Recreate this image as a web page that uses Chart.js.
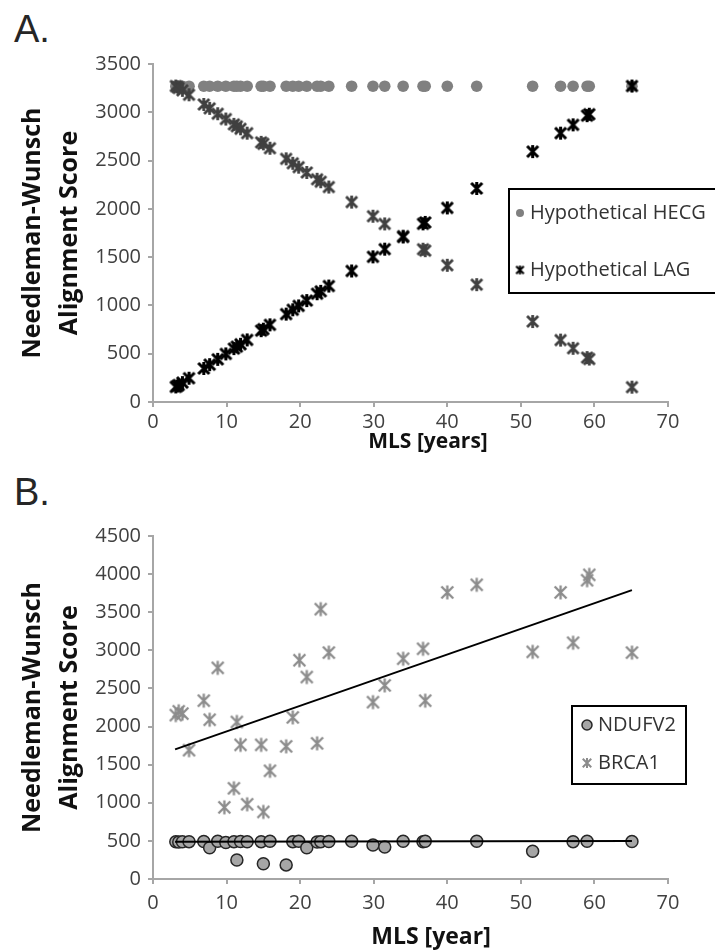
<!DOCTYPE html>
<html>
<head>
<meta charset="utf-8">
<script src="https://cdn.jsdelivr.net/npm/chart.js@4.4.1/dist/chart.umd.min.js"></script>
<style>
  body { margin: 0; background: #fff; width: 715px; height: 952px; position: relative; overflow: hidden; }
  canvas { position: absolute; left: 0; }
  #chartA { top: 0; }
  #chartB { top: 460px; }
  .panel { position: absolute; left: 14px; font-family: "Liberation Sans", Arial, sans-serif; font-size: 38px; line-height: 38px; color: #262626; }
</style>
</head>
<body>
<div class="panel" style="top:10px">A.</div>
<div class="panel" style="top:473px">B.</div>
<canvas id="chartA" width="715" height="470"></canvas>
<canvas id="chartB" width="715" height="492"></canvas>
<script>
// --- panel A: hypothetical scores vs maximum life span ---
const mlsA = [3.1, 3.3, 3.5, 4.0, 4.9, 6.9, 7.7, 8.8, 9.9, 11.0, 11.4, 11.9, 12.8, 14.7, 15.0, 15.9, 18.1, 19.0, 19.8,
  20.9, 22.3, 22.8, 23.9, 27.0, 29.9, 31.5, 34.0, 36.7, 37.0, 40.0, 44.0, 51.6, 55.4, 57.1, 59.0, 59.3, 65.1];
const hecgA = [3270, 3270, 3270, 3270, 3270, 3270, 3270, 3270, 3270, 3270, 3270, 3270, 3270, 3270, 3270, 3270, 3270,
  3270, 3270, 3270, 3270, 3270, 3270, 3270, 3270, 3270, 3270, 3270, 3270, 3270, 3270, 3270, 3270, 3270, 3270, 3270, 3270];
const lagUpA = [156, 166, 176, 201, 246, 347, 387, 442, 498, 553, 573, 598, 643, 739, 754, 799, 910, 955, 995,
  1050, 1121, 1146, 1201, 1357, 1503, 1583, 1709, 1845, 1860, 2010, 2211, 2593, 2784, 2870, 2965, 2980, 3272];
const lagDownA = [3272, 3262, 3252, 3227, 3181, 3081, 3041, 2985, 2930, 2875, 2855, 2829, 2784, 2689, 2673, 2628, 2518,
  2472, 2432, 2377, 2306, 2281, 2226, 2070, 1924, 1844, 1718, 1582, 1567, 1416, 1215, 833, 641, 556, 460, 445, 154];

// --- panel B: NDUFV2 and BRCA1 scores ---
const mlsNdufv2 = [3.1, 3.5, 4.0, 4.9, 6.9, 7.7, 8.8, 9.9, 11.0, 11.4, 11.9, 12.8, 14.7, 15.0, 15.9, 18.1, 19.0, 19.8,
  20.9, 22.3, 22.8, 23.9, 27.0, 29.9, 31.5, 34.0, 36.7, 37.0, 44.0, 51.6, 57.1, 59.0, 65.1];
const ndufv2 = [490, 485, 488, 490, 492, 410, 495, 480, 490, 250, 492, 488, 490, 200, 495, 185, 490, 495,
  410, 485, 490, 492, 495, 445, 420, 495, 490, 495, 495, 365, 490, 495, 492];
const mlsBrca1 = [3.1, 3.5, 4.0, 4.9, 6.9, 7.7, 8.8, 9.7, 11.0, 11.4, 11.9, 12.8, 14.7, 15.0, 15.9, 18.1, 19.0, 19.9,
  20.9, 22.3, 22.8, 23.9, 29.9, 31.5, 34.0, 36.7, 37.0, 40.0, 44.0, 51.6, 55.4, 57.1, 59.0, 59.3, 65.1];
const brca1 = [2150, 2200, 2170, 1690, 2340, 2090, 2770, 940, 1190, 2060, 1760, 980, 1760, 880, 1420, 1740, 2120, 2870,
  2650, 1780, 3540, 2970, 2320, 2540, 2890, 3020, 2340, 3760, 3860, 2980, 3760, 3100, 3920, 3990, 2970];
const trendBrcaX = [3.0, 65.1];
const trendBrcaY = [1700, 3790];
const trendNdufX = [3.0, 65.1];
const trendNdufY = [488, 500];

const xTicks = { min: 0, max: 70, step: 10 };

const pts = (xs, ys) => xs.map((x, i) => ({ x, y: ys[i] }));

function starMarker(color, r, lw) {
  const s = Math.ceil(2 * r + lw * 2);
  const c = document.createElement("canvas");
  c.width = s; c.height = s;
  const g = c.getContext("2d");
  const m = s / 2, d = r * 0.85;
  g.strokeStyle = color;
  g.lineWidth = lw;
  g.beginPath();
  g.moveTo(m - d, m - d); g.lineTo(m + d, m + d);
  g.moveTo(m + d, m - d); g.lineTo(m - d, m + d);
  g.moveTo(m, m - r); g.lineTo(m, m + r);
  g.stroke();
  return c;
}

const FONT = "'Open Sans', 'Liberation Sans', sans-serif";
Chart.defaults.font.family = FONT;

// legend drawn as a framed box at fixed spot, x title placed like the original (a bit right of centre)
const legendBox = {
  id: "legendBox",
  afterDraw(chart, args, o) {
    const ctx = chart.ctx;
    ctx.save();
    ctx.lineWidth = 2;
    ctx.strokeStyle = "#000";
    ctx.strokeRect(o.x, o.y, o.w, o.h);
    ctx.font = `${o.size}px ${FONT}`;
    ctx.textBaseline = "middle";
    o.items.forEach((it) => {
      if (it.img) {
        ctx.drawImage(it.img, it.mx - it.img.width / 2, it.y - it.img.height / 2);
      } else {
        ctx.beginPath();
        ctx.arc(it.mx, it.y, it.r, 0, Math.PI * 2);
        ctx.fillStyle = it.fill;
        ctx.fill();
        if (it.stroke) { ctx.lineWidth = 1.5; ctx.strokeStyle = it.stroke; ctx.stroke(); }
      }
      ctx.fillStyle = "#333";
      ctx.fillText(it.text, o.textX, it.y);
    });
    const t = o.xTitle;
    ctx.font = `bold ${t.size}px ${FONT}`;
    ctx.textAlign = "center";
    ctx.fillStyle = "#111";
    ctx.fillText(t.text, t.x, t.y);
    ctx.restore();
  },
};

function scales(yMax, o) {
  const axisGrid = { drawOnChartArea: false, drawTicks: true, tickLength: 5, color: "#a6a6a6", lineWidth: 2 };
  const axisBorder = { color: "#a6a6a6", width: 2 };
  return {
    x: {
      type: "linear", min: xTicks.min, max: xTicks.max,
      grid: axisGrid, border: axisBorder,
      ticks: { stepSize: xTicks.step, padding: o.xTickPad, color: "#404040", font: { size: 20 },
        callback: (v) => String(v) },
      afterFit: (s) => { s.height = o.xHeight; },
    },
    y: {
      min: 0, max: yMax,
      grid: axisGrid, border: axisBorder,
      ticks: { stepSize: 500, padding: 7, color: "#404040", font: { size: 20 }, callback: (v) => String(v) },
      title: { display: true, text: ["Needleman-Wunsch", "Alignment Score"], color: "#111",
        font: { size: 25, weight: "bold", lineHeight: 1.5 }, padding: { top: 14, bottom: 0 } },
      afterFit: (s) => { s.width = 153; },
    },
  };
}

const starBlack = starMarker("#000", 6.5, 3);
const starDark = starMarker("#404040", 6.5, 2.8);
const starGray = starMarker("#8c8c8c", 7, 2.3);

new Chart(document.getElementById("chartA"), {
  type: "scatter",
  data: {
    datasets: [
      { label: "Hypothetical LAG", data: pts(mlsA, lagUpA), pointStyle: starBlack, pointRadius: 6 },
      { label: "Hypothetical LAG ", data: pts(mlsA, lagDownA), pointStyle: starDark, pointRadius: 6 },
      { label: "Hypothetical HECG", data: pts(mlsA, hecgA), pointStyle: "circle", pointRadius: 5.8,
        backgroundColor: "#808080", borderWidth: 0 },
    ],
  },
  options: {
    responsive: false,
    animation: false,
    layout: { padding: { top: 64, right: 47, left: 0, bottom: 0 } },
    scales: scales(3500, { xTickPad: 3, xHeight: 68 }),
    plugins: {
      legend: { display: false },
      tooltip: { enabled: false },
      legendBox: {
        x: 509, y: 189, w: 210, h: 104, size: 20, textX: 530,
        items: [
          { text: "Hypothetical HECG", mx: 520, y: 213, r: 4, fill: "#808080" },
          { text: "Hypothetical LAG", mx: 520, y: 270, img: starMarker("#000", 4.5, 2) },
        ],
        xTitle: { text: "MLS [years]", size: 21, x: 428, y: 442 },
      },
    },
  },
  plugins: [legendBox],
});

new Chart(document.getElementById("chartB"), {
  type: "scatter",
  data: {
    datasets: [
      { label: "NDUFV2 trend", data: pts(trendNdufX, trendNdufY), showLine: true, pointRadius: 0,
        borderColor: "#000", borderWidth: 2 },
      { label: "BRCA1 trend", data: pts(trendBrcaX, trendBrcaY), showLine: true, pointRadius: 0,
        borderColor: "#000", borderWidth: 2 },
      { label: "NDUFV2", data: pts(mlsNdufv2, ndufv2), pointStyle: "circle", pointRadius: 6,
        backgroundColor: "#a6a6a6", borderColor: "#262626", borderWidth: 1.5 },
      { label: "BRCA1", data: pts(mlsBrca1, brca1), pointStyle: starGray, pointRadius: 6 },
    ],
  },
  options: {
    responsive: false,
    animation: false,
    layout: { padding: { top: 76, right: 47, left: 0, bottom: 0 } },
    scales: scales(4500, { xTickPad: 7, xHeight: 73 }),
    plugins: {
      legend: { display: false },
      tooltip: { enabled: false },
      legendBox: {
        x: 572, y: 246, w: 114, h: 78, size: 20, textX: 598,
        items: [
          { text: "NDUFV2", mx: 587, y: 265, r: 5, fill: "#a6a6a6", stroke: "#262626" },
          { text: "BRCA1", mx: 587, y: 303, img: starMarker("#8c8c8c", 5, 2) },
        ],
        xTitle: { text: "MLS [year]", size: 23, x: 431, y: 477 },
      },
    },
  },
  plugins: [legendBox],
});
</script>
</body>
</html>
